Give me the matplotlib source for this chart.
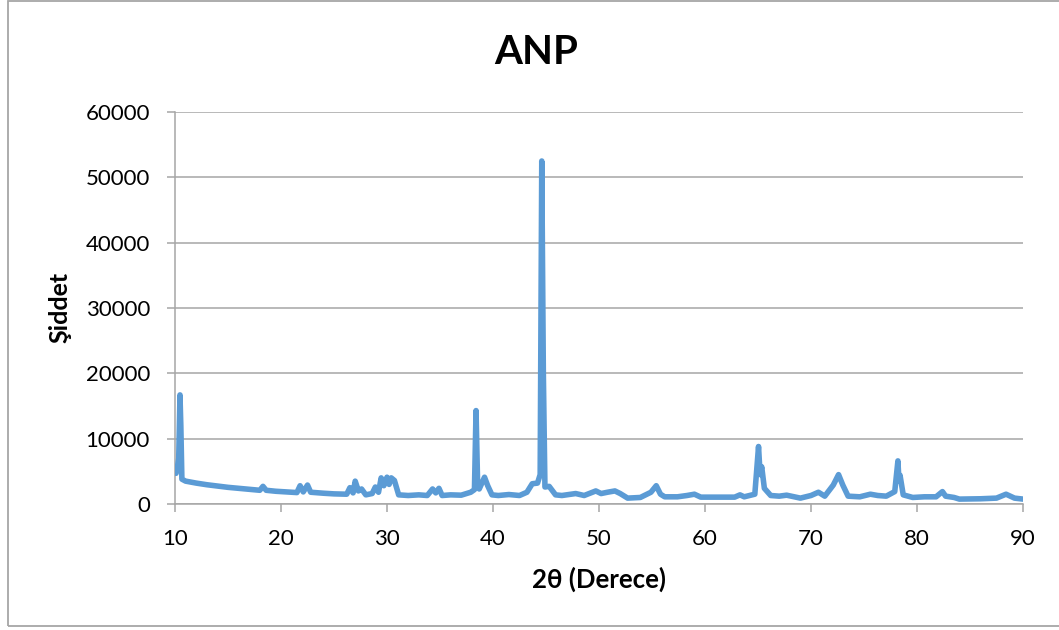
import matplotlib
matplotlib.use("Agg")
import matplotlib.pyplot as plt
from matplotlib.patches import Rectangle

plt.rcParams['font.family'] = ['Lato', 'DejaVu Sans']

two_theta = [10.0, 10.1, 10.2, 10.35, 10.47, 10.55, 10.65, 11.0, 12.0, 13.0, 14.0, 15.0,
             16.0, 17.0, 18.0, 18.3, 18.6, 19.5, 20.5, 21.5, 21.8, 22.1, 22.5, 22.8,
             24.0, 25.0, 26.2, 26.5, 26.8, 27.0, 27.3, 27.6, 28.0, 28.6, 28.9, 29.2,
             29.45, 29.7, 30.0, 30.2, 30.4, 30.7, 31.1, 32.0, 33.0, 33.8, 34.3, 34.6,
             34.9, 35.2, 36.0, 37.0, 37.9, 38.25, 38.4, 38.55, 38.7, 39.2, 39.5, 39.9,
             40.5, 41.5, 42.5, 43.2, 43.7, 44.2, 44.45, 44.6, 44.75, 44.9, 45.3, 45.9,
             46.5, 47.8, 48.6, 49.7, 50.2, 50.8, 51.5, 52.0, 52.7, 53.9, 54.9, 55.4,
             55.8, 56.2, 57.4, 58.3, 59.0, 59.6, 61.0, 62.8, 63.3, 63.7, 64.7, 65.05,
             65.2, 65.35, 65.6, 66.2, 67.0, 67.7, 69.0, 70.0, 70.7, 71.3, 72.1, 72.6,
             73.0, 73.5, 74.6, 75.6, 76.3, 77.1, 77.9, 78.2, 78.3, 78.4, 78.7, 79.6,
             80.7, 81.8, 82.4, 82.7, 83.5, 84.0, 86.0, 87.5, 88.4, 89.2, 90.0]
intensity = [5000, 4700, 5300, 7000, 16700, 12000, 3800, 3500, 3200, 2950, 2750, 2550,
             2400, 2250, 2100, 2700, 2100, 1950, 1850, 1750, 2800, 1850, 2900, 1800,
             1650, 1550, 1500, 2500, 1700, 3500, 2000, 2300, 1400, 1600, 2600, 1800,
             4000, 2800, 4100, 3000, 4000, 3600, 1400, 1300, 1400, 1300, 2300, 1700,
             2400, 1300, 1400, 1350, 1800, 2200, 14300, 3000, 2300, 4100, 2800, 1400,
             1300, 1450, 1300, 1800, 3100, 3200, 4500, 52500, 20000, 2600, 2700, 1400,
             1300, 1600, 1300, 2000, 1600, 1800, 2000, 1600, 900, 1000, 1800, 2800,
             1500, 1100, 1100, 1300, 1500, 1050, 1050, 1050, 1400, 1100, 1500, 8800,
             4500, 5700, 2400, 1300, 1200, 1350, 900, 1300, 1800, 1200, 2900, 4500,
             2900, 1200, 1100, 1500, 1300, 1200, 1900, 6600, 3500, 4400, 1400, 1000,
             1100, 1100, 1900, 1200, 1000, 750, 800, 900, 1500, 900, 750]

x_ticks = [10, 20, 30, 40, 50, 60, 70, 80, 90]
y_ticks = [0, 10000, 20000, 30000, 40000, 50000, 60000]
title = "ANP"
x_label = "2θ (Derece)"
y_label = "Şiddet"

W, H = 1059, 630
fig = plt.figure(figsize=(W / 100, H / 100), dpi=100)
ax = fig.add_axes([175 / W, 1 - 504 / H, (1023 - 175) / W, (504 - 112) / H])

grid_c = '#A6A6A6'
ax.plot(two_theta, intensity, color='#5B9BD5', linewidth=4.0, solid_joinstyle='round',
        solid_capstyle='round', zorder=3)

ax.set_xlim(10, 90)
ax.set_ylim(0, 60000)
ax.set_xticks(x_ticks)
ax.set_yticks(y_ticks)
ax.set_xticklabels([str(v) for v in x_ticks])
ax.set_yticklabels([str(v) for v in y_ticks])
ax.yaxis.grid(True, color=grid_c, linewidth=1.1)
ax.set_axisbelow(True)
for s in ['top', 'right']:
    ax.spines[s].set_visible(False)
for s in ['left', 'bottom']:
    ax.spines[s].set_color(grid_c)
    ax.spines[s].set_linewidth(1.1)
ax.tick_params(axis='both', direction='out', length=6, width=1.1, color=grid_c,
               labelsize=16, pad=12, labelcolor='black')

fig.text(536 / W, 1 - 52 / H, title, ha='center', va='center', fontsize=29,
         fontweight='bold')
fig.text(599 / W, 1 - 579 / H, x_label, ha='center', va='center', fontsize=18.5,
         fontweight='bold')
fig.text(60 / W, 1 - 307 / H, y_label, ha='center', va='center', fontsize=18,
         fontweight='bold', rotation=90)

fig.patches.append(Rectangle((7.5 / W, 4.5 / H), (1065 - 7.5) / W, (629.5 - 4.5) / H,
                             transform=fig.transFigure, fill=False,
                             edgecolor=grid_c, linewidth=1.3))

fig.savefig("out.png", dpi=100)
